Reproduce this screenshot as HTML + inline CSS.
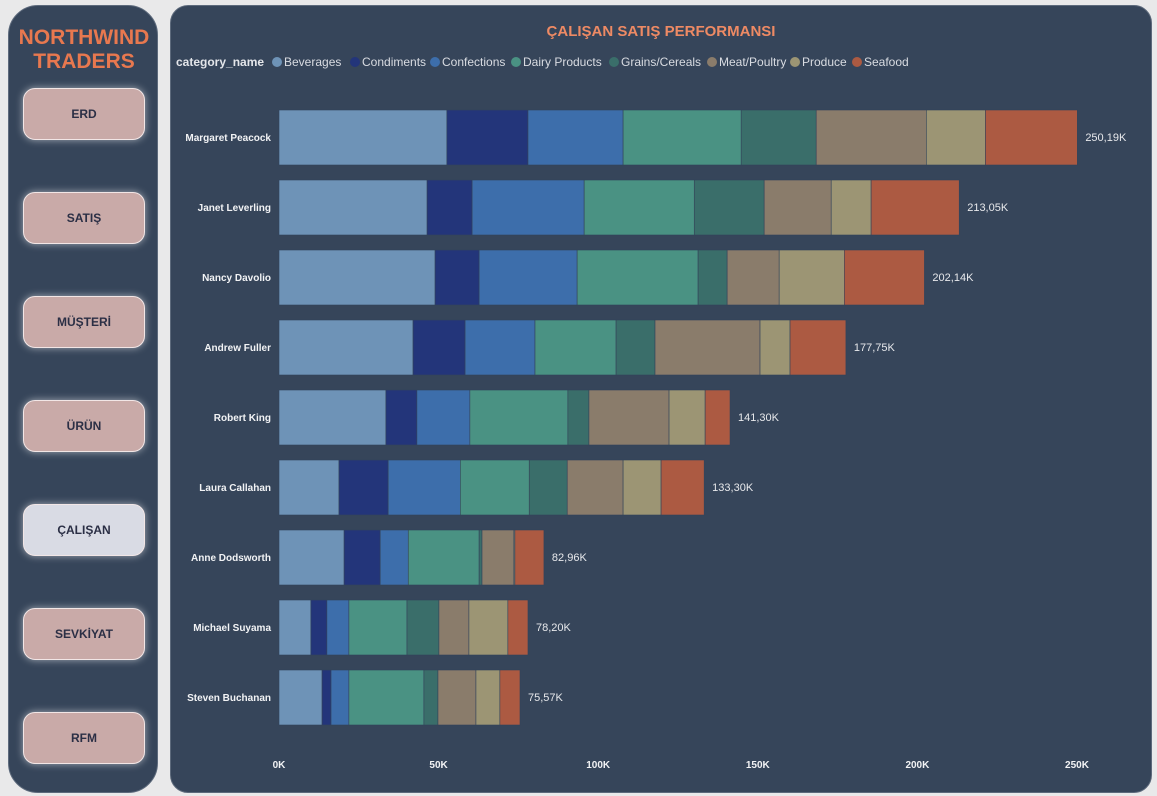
<!DOCTYPE html>
<html><head><meta charset="utf-8">
<style>
html,body{margin:0;padding:0;width:1157px;height:796px;background:#e9e9ea;overflow:hidden;font-family:"Liberation Sans",sans-serif;}
#side{position:absolute;left:8px;top:5px;width:148px;height:786px;background:#36455a;border-radius:30px;border:1px solid #5d6a7c;}
#brand{position:absolute;left:0;width:150px;top:20px;text-align:center;color:#e8784f;font-weight:bold;font-size:21px;line-height:24px;}
.btn{position:absolute;left:14px;width:120px;height:50px;background:#c9aaa8;border:1px solid #f2e6e6;border-radius:12px;box-shadow:0 0 8px rgba(255,255,255,0.55);text-align:center;line-height:50px;font-size:12px;font-weight:bold;color:#2b2f45;}
#main{position:absolute;left:170px;top:5px;width:980px;height:786px;background:#36455a;border-radius:18px;border:1px solid #5d6a7c;}
</style></head><body>
<div id="side">
<div id="brand">NORTHWIND<br>TRADERS</div>
<div class="btn" style="top:82px">ERD</div>
<div class="btn" style="top:186px">SATIŞ</div>
<div class="btn" style="top:290px">MÜŞTERİ</div>
<div class="btn" style="top:394px">ÜRÜN</div>
<div class="btn" style="top:498px;background:#d9dbe4">ÇALIŞAN</div>
<div class="btn" style="top:602px">SEVKİYAT</div>
<div class="btn" style="top:706px">RFM</div>
</div>
<div id="main"></div>
<svg id="chart" width="1157" height="796" style="position:absolute;left:0;top:0"></svg>
<script>
const employees=["Margaret Peacock","Janet Leverling","Nancy Davolio","Andrew Fuller","Robert King","Laura Callahan","Anne Dodsworth","Michael Suyama","Steven Buchanan"];
const categories=["Beverages","Condiments","Confections","Dairy Products","Grains/Cereals","Meat/Poultry","Produce","Seafood"];
const colors=["#6e93b7","#23357a","#3d6eab","#4a9283","#3a6e6a","#8a7c6b","#9c9574","#ac5a42"];
const beverages=[52.6,46.4,48.9,42.0,33.5,18.8,20.4,10.0,13.5];
const condiments=[25.4,14.1,13.8,16.3,9.7,15.4,11.3,5.0,2.8];
const confections=[29.8,35.1,30.7,21.9,16.6,22.6,8.8,6.9,5.6];
const dairy=[37.0,34.5,37.9,25.4,30.7,21.6,22.2,18.2,23.5];
const grains=[23.5,21.9,9.1,12.2,6.6,11.9,0.9,10.0,4.4];
const meat=[34.5,21.0,16.3,32.9,25.1,17.5,10.0,9.4,11.9];
const produce=[18.5,12.5,20.4,9.4,11.3,11.9,0.3,12.2,7.5];
const seafood=[28.8,27.6,25.1,17.5,7.8,13.5,9.1,6.3,6.3];
const totalLabels=["250,19K","213,05K","202,14K","177,75K","141,30K","133,30K","82,96K","78,20K","75,57K"];
const xTicks=[0,50,100,150,200,250];
const series=[beverages,condiments,confections,dairy,grains,meat,produce,seafood];
const NS="http://www.w3.org/2000/svg";
const svg=document.getElementById('chart');
const x=v=>279+v*(798/250);
const yTop=i=>110+i*70;
function mk(tag,attrs){const e=document.createElementNS(NS,tag);for(const k in attrs)e.setAttribute(k,attrs[k]);svg.appendChild(e);return e;}
let t=mk('text',{x:661,y:36,'text-anchor':'middle',fill:'#ee8a64','font-size':15,'font-weight':'bold'});t.textContent="ÇALIŞAN SATIŞ PERFORMANSI";


t=mk('text',{x:176,y:66,fill:'#e4e6ea','font-size':12,'font-weight':'bold'});t.textContent="category_name";


const legX=[271,349,429,510,608,706,789,851];
categories.forEach((c,k)=>{
 const g=document.createElementNS(NS,'g');svg.appendChild(g);
 
 
 const ci=document.createElementNS(NS,'circle');ci.setAttribute('cx',legX[k]+6);ci.setAttribute('cy',62);ci.setAttribute('r',5);ci.setAttribute('fill',colors[k]);g.appendChild(ci);
 const tx=document.createElementNS(NS,'text');tx.setAttribute('x',legX[k]+13);tx.setAttribute('y',66);tx.setAttribute('fill','#d9dce2');tx.setAttribute('font-size',12);tx.textContent=c;g.appendChild(tx);
});
employees.forEach((e,i)=>{
 let acc=0;
 series.forEach((s,k)=>{
  const r=mk('rect',{x:x(acc),y:yTop(i),width:Math.max(0,x(acc+s[i])-x(acc)),height:55,fill:colors[k],stroke:'#33435a','stroke-width':0.6});
  
  
  acc+=s[i];
 });
 let l=mk('text',{x:271,y:yTop(i)+31,'text-anchor':'end',fill:'#f2f3f5','font-size':10,'font-weight':'bold'});l.textContent=e;
 
 
 let v=mk('text',{x:x(acc)+8,y:yTop(i)+31,fill:'#e8e9ec','font-size':11});v.textContent=totalLabels[i];
 
 
});
xTicks.forEach(tk=>{
 const l=mk('text',{x:x(tk),y:768,'text-anchor':'middle',fill:'#f2f3f5','font-size':10,'font-weight':'bold'});l.textContent=tk+"K";
 
 
});
</script>
</body></html>
